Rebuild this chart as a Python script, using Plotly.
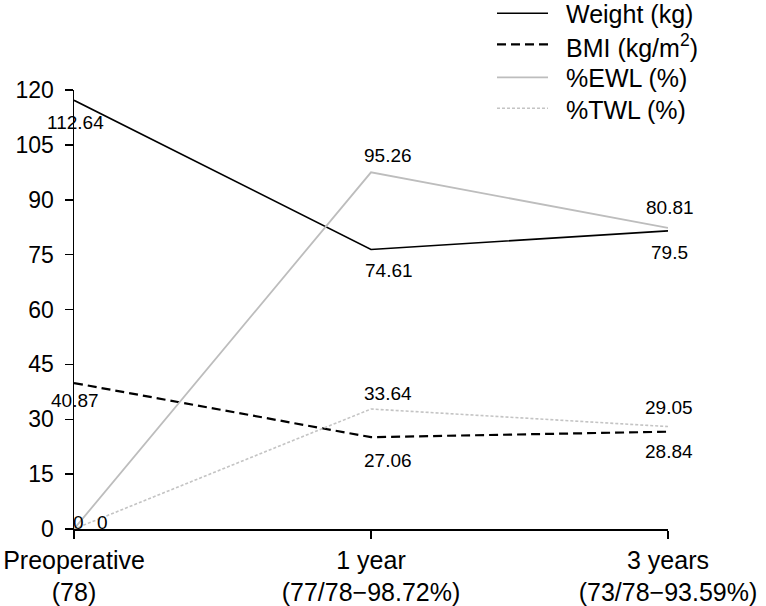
import plotly.graph_objects as go

# ---- data ----
categories = ["Preoperative<br>(78)", "1 year<br>(77/78\u221298.72%)", "3 years<br>(73/78\u221293.59%)"]
weight = [117.2, 76.4, 81.5]
bmi = [39.9, 25.1, 26.6]
ewl = [0, 97.5, 82.3]
twl = [0, 32.8, 28.0]

weight_labels = ["112.64", "74.61", "79.5"]
bmi_labels = ["40.87", "27.06", "28.84"]
ewl_labels = ["0", "95.26", "80.81"]
twl_labels = ["0", "33.64", "29.05"]

series_names = ["Weight (kg)", "BMI (kg/m<sup>2</sup>)", "%EWL (%)", "%TWL (%)"]
y_ticks = [0, 15, 30, 45, 60, 75, 90, 105, 120]

FONT = "Arial, Liberation Sans, Helvetica, sans-serif"

styles = [
    dict(color="black", width=1.6, dash="solid"),
    dict(color="black", width=2.2, dash="9px,5px"),
    dict(color="#bdbdbd", width=1.8, dash="solid"),
    dict(color="#c4c4c4", width=1.6, dash="3px,2px"),
]
series = [weight, bmi, ewl, twl]

fig = go.Figure()
for name, vals, st in zip(series_names, series, styles):
    fig.add_trace(go.Scatter(x=categories, y=vals, mode="lines", name=name,
                             line=st, showlegend=False, hoverinfo="skip"))

# ---- value labels (xshift, yshift per point) ----
label_specs = [
    (weight, weight_labels, [(1, -22), (18, -21), (1, -22)]),
    (bmi, bmi_labels, [(1, -17), (17, -23), (1, -20)]),
    (ewl, ewl_labels, [(4, 7), (17, 17), (2, 20)]),
    (twl, twl_labels, [(28, 7), (17, 16), (1, 19)]),
]
for vals, labs, shifts in label_specs:
    for cat, v, lab, (dx, dy) in zip(categories, vals, labs, shifts):
        fig.add_annotation(x=cat, y=v, text=lab, showarrow=False,
                           xshift=dx, yshift=dy,
                           font=dict(family=FONT, size=19, color="black"))

# ---- manual legend (top right) ----
L, R, T, B = 74, 98, 90, 77
W, H = 766, 606
pw, ph = W - L - R, H - T - B

def px_x(px):
    return (px - L) / pw

def px_y(py):
    return (H - B - py) / ph

legend_rows = [13.3, 44.3, 77.3, 108.3]
text_rows = [13.5, 46, 78, 109.5]
for name, st, ry, ty in zip(series_names, styles, legend_rows, text_rows):
    fig.add_shape(type="line", xref="paper", yref="paper",
                  x0=px_x(497), x1=px_x(548), y0=px_y(ry), y1=px_y(ry),
                  line=st)
    fig.add_annotation(xref="paper", yref="paper", x=px_x(564), y=px_y(ty),
                       xanchor="left", yanchor="middle", showarrow=False,
                       text=name, font=dict(family=FONT, size=25, color="black"))

fig.update_layout(
    width=W, height=H,
    margin=dict(l=L, r=R, t=T, b=B, pad=0, autoexpand=False),
    paper_bgcolor="white", plot_bgcolor="white",
    font=dict(family=FONT, color="black"),
    showlegend=False,
)
fig.update_xaxes(
    type="category", range=[0, 2], showgrid=False, zeroline=False,
    automargin=False,
    showline=True, linecolor="black", linewidth=1.5,
    ticks="outside", ticklen=8, tickwidth=1.5, tickcolor="black",
    tickfont=dict(family=FONT, size=25, color="black"),
)
fig.update_yaxes(
    range=[0, 120], tickvals=y_ticks, showgrid=False, zeroline=False,
    automargin=False,
    showline=True, linecolor="black", linewidth=1.5,
    ticks="outside", ticklen=8, tickwidth=1.5, tickcolor="black",
    ticklabelstandoff=6,
    tickfont=dict(family=FONT, size=23, color="black"),
)

fig.write_html(
    "out.html",
    config={"displayModeBar": False, "staticPlot": True},
    post_script="document.body.style.margin='0';document.body.style.overflow='hidden';",
)
